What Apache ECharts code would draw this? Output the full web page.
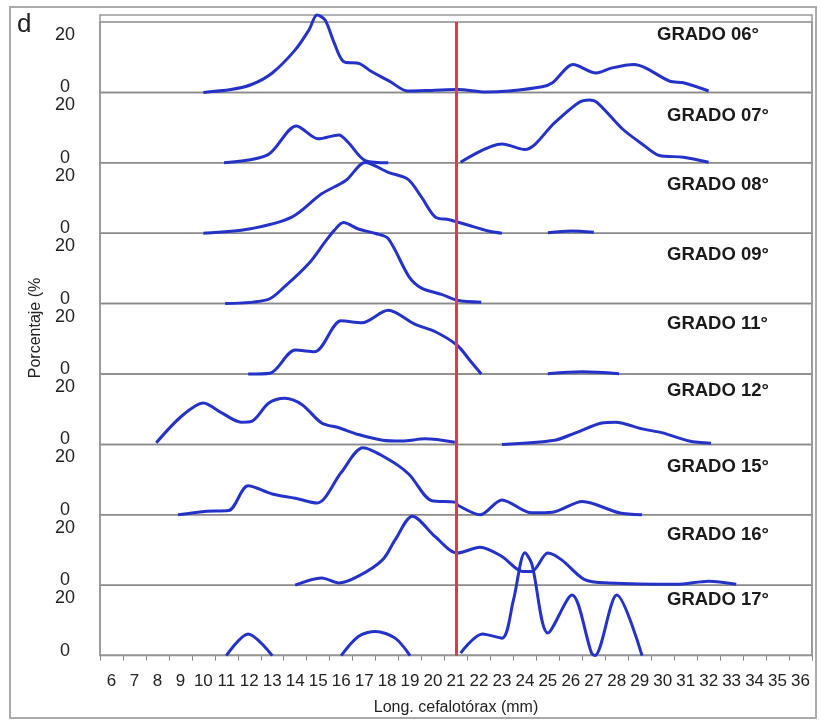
<!DOCTYPE html>
<html>
<head>
<meta charset="utf-8">
<script src="https://cdn.jsdelivr.net/npm/echarts@6/dist/echarts.min.js"></script>
<style>
  html, body { margin: 0; padding: 0; background: #fff; }
  #main { width: 821px; height: 722px; }
</style>
</head>
<body>
<div id="main"></div>
<script>
// longitud (mm) en el eje x, etiquetas 6..36
const xTicks = ['6', '7', '8', '9', '10', '11', '12', '13', '14', '15', '16', '17', '18', '19', '20', '21',
  '22', '23', '24', '25', '26', '27', '28', '29', '30', '31', '32', '33', '34', '35', '36'];
const yTicks = [0, 20];
const corte = 21; // linea roja

const grados = ['GRADO 06°', 'GRADO 07°', 'GRADO 08°', 'GRADO 09°', 'GRADO 11°',
  'GRADO 12°', 'GRADO 15°', 'GRADO 16°', 'GRADO 17°'];

// [longitud, porcentaje]; null corta la curva
const grado06 = [[10, 0], [11.2, 1], [12.1, 2.8], [13, 6.9], [14, 15.1], [14.6, 22.2], [14.95, 27.5],
  [15.3, 25.7], [15.7, 17.5], [16.1, 11], [16.8, 10.2], [17.3, 7.5], [18.1, 4], [18.9, 0.5], [20.1, 0.8],
  [21.1, 1], [22.3, 0.1], [23.3, 0.5], [24.75, 2], [25.2, 3.4], [26.1, 9.9], [27.1, 6.9], [27.8, 8.7],
  [28.75, 9.9], [29.25, 8.7], [30.3, 4], [30.9, 3.4], [32, 0.5]];
const grado07 = [[10.9, 0], [12.8, 2.8], [14.05, 13.1], [15, 8.5], [15.9, 9.9], [16.3, 7.3], [17.05, 0.8],
  [18.05, 0], [19, null], [21.2, 0.2], [23, 6.7], [24, 4.7], [25.3, 14.3], [26.35, 21.4], [26.8, 22.3],
  [27.15, 21.4], [28.25, 12], [29.1, 6.7], [29.85, 2.6], [30.9, 2], [32, 0.2]];
const grado08 = [[10, 0], [12, 1.5], [13.85, 5.7], [15.15, 14], [16.2, 18.7], [17.05, 25.1], [18.05, 21.6],
  [18.9, 19.2], [19.5, 12.8], [20.1, 5.7], [20.7, 4.8], [21.55, 2.8], [22.4, 0.8], [23, 0], [24, null],
  [25, 0.2], [26, 0.8], [27, 0.3]];
const grado09 = [[10.95, 0], [12.8, 1.4], [13.55, 6.1], [14.6, 14.3], [15.3, 21.9], [15.7, 26], [16.1, 28.8],
  [16.75, 26.5], [17.5, 24.9], [18.05, 23.1], [18.95, 9.6], [19.5, 5.5], [20.4, 3.2], [21.05, 1.2], [22.1, 0.5]];
const grado11 = [[11.95, 0], [12.9, 0.3], [14, 8.5], [14.85, 7.9], [16, 18.9], [16.9, 18.2], [18.05, 22.6],
  [19.2, 17.7], [20.1, 15], [21.05, 10.2], [21.6, 4.9], [22.1, 0], [23, null], [25, 0.1], [26.5, 0.8], [28.1, 0.1]];
const grado12 = [[7.95, 0.6], [9.05, 10], [10, 14.7], [10.8, 11.2], [11.65, 7.9], [12.1, 8.2], [12.85, 14.7],
  [13.55, 16.4], [14.3, 14.1], [15.15, 7.6], [15.9, 5.9], [16.75, 3.5], [17.8, 1.5], [18.65, 1.2], [19.65, 2],
  [20.95, 0.8], [22, null], [23, 0], [25.3, 1.5], [26.2, 4.1], [27.35, 7.6], [27.95, 7.9], [29.1, 5.5],
  [30, 4.1], [31.15, 1.2], [32.1, 0.4]];
const grado15 = [[8.9, 0], [10.05, 1.2], [11.1, 1.5], [11.95, 10.3], [13, 7.4], [14, 5.9], [14.95, 4.2],
  [16, 15], [16.95, 23.8], [18.05, 19.7], [18.95, 14.4], [19.95, 5], [20.95, 4.5], [21.1, 3.3], [22.05, 0],
  [23, 5.3], [24.3, 0.7], [25.2, 0.9], [26.5, 4.7], [28.1, 0.7], [29.1, 0]];
const grado16 = [[14, 0], [15.15, 2.6], [15.9, 0.8], [16.75, 3.2], [17.8, 9], [18.35, 16.1], [19.1, 24.5],
  [20.1, 17.2], [21.05, 11.4], [22.05, 13.5], [23, 10.2], [23.9, 4.9], [24.3, 4.9], [25, 11.4], [25.6, 9],
  [26.6, 2], [27.65, 0.8], [30.6, 0.3], [32, 1.4], [33.2, 0.3]];
const grado17 = [[11, 0], [11.95, 7.7], [13, 0], [14, null], [16, 0], [16.75, 6.8], [17.5, 8.6], [18.35, 6.2],
  [19, 0], [20, null], [21.2, 0.9], [22.15, 7.7], [23, 6.2], [23.5, 19.7], [24, 36.5], [24.3, 32.6], [25, 8],
  [26.05, 21.5], [26.9, 0.9], [27.05, 0], [28, 21.5], [29.1, 0]];

const panels = [grado06, grado07, grado08, grado09, grado11, grado12, grado15, grado16, grado17];

const TOP = 22, PANEL_H = 70.4, LEFT = 100, RIGHT = 9;
const titleDy = [13, 24, 23, 22, 21, 17, 23, 21, 15];
const titleX = [657, 667, 667, 667, 667, 667, 667, 667, 667];
const font = '"Liberation Sans", Arial, sans-serif';

const chart = echarts.init(document.getElementById('main'));

const grid = [], xAxis = [], yAxis = [], series = [], title = [];
panels.forEach(function (data, i) {
  const top = TOP + i * PANEL_H;
  grid.push({
    left: LEFT, right: RIGHT, top: top, height: PANEL_H,
    show: true, borderColor: '#8a8a8a', borderWidth: 1.5, backgroundColor: 'transparent'
  });
  xAxis.push({ type: 'value', gridIndex: i, min: 5.5, max: 36.5, show: false, position: 'top' });
  yAxis.push({
    type: 'value', gridIndex: i, min: 0, max: 25, interval: 20,
    axisLine: { show: false }, axisTick: { show: false }, splitLine: { show: false },
    axisLabel: {
      align: 'center', margin: 35,
      formatter: function (v) {
        if (v === yTicks[0]) return '{z|' + v + '}';
        if (v === yTicks[1]) return '{t|' + v + '}';
        return '';
      },
      rich: {
        z: { fontSize: 18, fontFamily: font, color: '#222', padding: [0, 0, 10, 0] },
        t: { fontSize: 18, fontFamily: font, color: '#222', padding: [0, 0, 2, 0] }
      }
    }
  });
  series.push({
    type: 'line', xAxisIndex: i, yAxisIndex: i, data: data,
    smooth: 0.3, showSymbol: false, clip: false, connectNulls: false,
    lineStyle: { color: '#2532c8', width: 3 },
    markLine: {
      silent: true, symbol: 'none', z: 10, animation: false,
      label: { show: false },
      lineStyle: { color: '#e03850', width: 3, type: 'solid' },
      data: [{ xAxis: corte }]
    }
  });
  title.push({
    text: grados[i], left: titleX[i], top: top + titleDy[i] - 10, padding: 0,
    textStyle: { fontSize: 18.5, fontWeight: 'bold', fontFamily: font, color: '#1a1a1a' }
  });
});

// eje de categorias con etiquetas en el panel inferior
xAxis.push({
  type: 'category', gridIndex: panels.length - 1, position: 'bottom', data: xTicks, boundaryGap: true,
  axisLine: { show: false },
  axisTick: { show: true, length: 5, lineStyle: { color: '#888' } },
  axisLabel: { interval: 0, fontSize: 17, fontFamily: font, color: '#222', margin: 17 },
  name: 'Long. cefalotórax (mm)', nameLocation: 'middle', nameGap: 44,
  nameTextStyle: { fontSize: 16, fontFamily: font, color: '#222' }
});

chart.setOption({
  backgroundColor: '#fff',
  animation: false,
  title: title,
  grid: grid,
  xAxis: xAxis,
  yAxis: yAxis,
  series: series,
  graphic: [
    { type: 'rect', shape: { x: 10, y: 7, width: 806, height: 711 }, style: { fill: 'none', stroke: '#aaa', lineWidth: 2 }, silent: true },
    { type: 'rect', shape: { x: 100, y: 15, width: 712, height: 640 }, style: { fill: 'none', stroke: '#999', lineWidth: 1.5 }, silent: true },
    { type: 'text', left: 17, top: 12, style: { text: 'd', fontSize: 26, fontFamily: font, fill: '#222' } },
    {
      type: 'text', x: 36, y: 328, rotation: Math.PI / 2,
      style: { text: 'Porcentaje (%', fontSize: 16, fontFamily: font, fill: '#222', align: 'center', verticalAlign: 'middle' }
    }
  ]
});
</script>
</body>
</html>
